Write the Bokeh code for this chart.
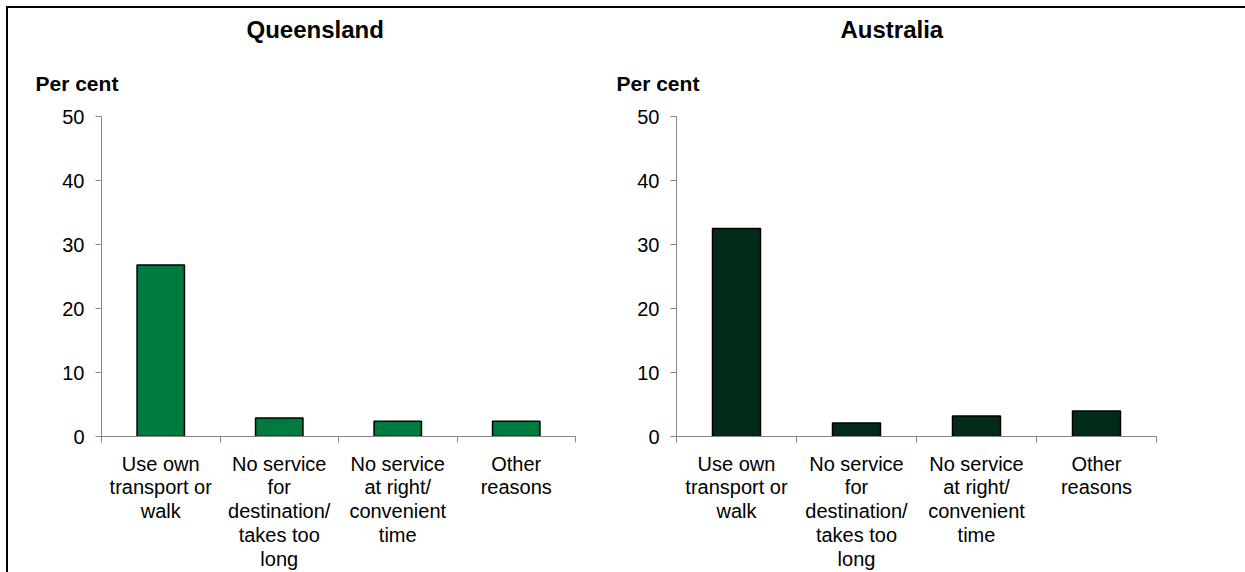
from bokeh.plotting import figure
from bokeh.models import Range1d, FixedTicker, Title
from bokeh.layouts import row
from bokeh.embed import file_html
from bokeh.resources import INLINE

# ---- data ----
categories = [
    "Use own\ntransport or\nwalk",
    "No service\nfor\ndestination/\ntakes too\nlong",
    "No service\nat right/\nconvenient\ntime",
    "Other\nreasons",
]
qld_values = [26.8, 2.9, 2.4, 2.4]
aus_values = [32.5, 2.1, 3.2, 4.0]
panel_titles = ["Queensland", "Australia"]
y_ticks = [0, 10, 20, 30, 40, 50]
y_label = "Per cent"
bar_colors = ["#007B40", "#032B19"]

FONT = "Liberation Sans"
AXIS_COLOR = "#868686"


def make_panel(title, values, color, width, mb_left, mb_right, title_off, label_off):
    n = len(categories)
    p = figure(
        width=width, height=564,
        x_range=Range1d(0, n), y_range=Range1d(y_ticks[0], y_ticks[-1]),
        output_backend="svg", toolbar_location=None,
        min_border_left=mb_left, min_border_right=mb_right,
        min_border_top=108, min_border_bottom=136,
    )
    p.outline_line_color = None
    p.xgrid.visible = False
    p.ygrid.visible = False
    p.background_fill_color = "white"
    p.border_fill_color = "white"

    xs = [i + 0.5 for i in range(n)]
    p.vbar(x=xs, top=values, width=0.4, bottom=0,
           fill_color=color, line_color="black", line_width=1.5)

    # x axis: labels at category centres, ticks at category boundaries
    xa = p.xaxis[0]
    xa.ticker = FixedTicker(ticks=xs, minor_ticks=list(range(n + 1)))
    xa.major_label_overrides = {x: c for x, c in zip(xs, categories)}
    xa.axis_line_color = AXIS_COLOR
    xa.minor_tick_line_color = AXIS_COLOR
    xa.minor_tick_out = 6
    xa.minor_tick_in = 0
    xa.major_tick_line_color = None
    xa.major_tick_out = 0
    xa.major_tick_in = 0
    xa.major_label_standoff = 10
    xa.major_label_text_font = FONT
    xa.major_label_text_font_size = "20px"
    xa.major_label_text_color = "black"
    xa.major_label_text_line_height = 1.08

    ya = p.yaxis[0]
    ya.ticker = FixedTicker(ticks=y_ticks, minor_ticks=[])
    ya.axis_line_color = AXIS_COLOR
    ya.major_tick_line_color = AXIS_COLOR
    ya.major_tick_out = 6
    ya.major_tick_in = 0
    ya.minor_tick_line_color = None
    ya.major_label_text_font = FONT
    ya.major_label_text_font_size = "20px"
    ya.major_label_text_color = "black"
    ya.major_label_standoff = 11

    p.add_layout(Title(
        text=y_label, align="left", offset=label_off,
        text_font=FONT, text_font_size="21px", text_font_style="bold",
        text_color="black", standoff=44,
    ), "above")
    p.add_layout(Title(
        text=title, align="left", offset=title_off,
        text_font=FONT, text_font_size="24px", text_font_style="bold",
        text_color="black", standoff=10,
    ), "above")
    return p


p1 = make_panel(panel_titles[0], qld_values, bar_colors[0], 592, 93, 25, 145, -66)
p2 = make_panel(panel_titles[1], aus_values, bar_colors[1], 645, 76, 89, 164, -60)

layout = row(p1, p2, styles={"border-left": "2px solid black",
                             "border-top": "2px solid black",
                             "margin-left": "6px", "margin-top": "6px"})

open("out.html", "w").write(file_html(layout, INLINE))
